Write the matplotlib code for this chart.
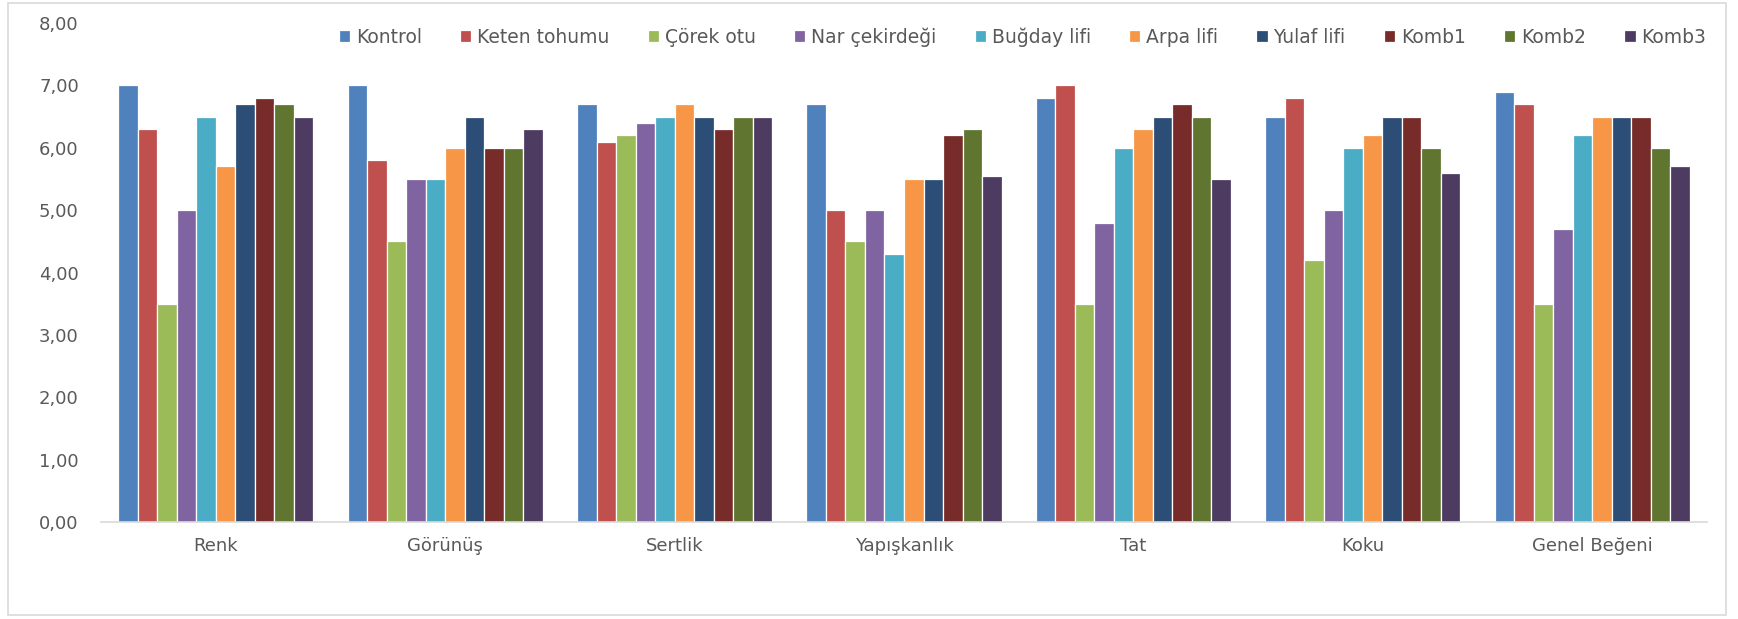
import matplotlib
matplotlib.use("Agg")
import matplotlib.pyplot as plt
import numpy as np
from matplotlib.patches import Rectangle
from matplotlib.ticker import FuncFormatter

categories = ["Renk", "Görünüş", "Sertlik", "Yapışkanlık", "Tat", "Koku", "Genel Beğeni"]
series_names = ["Kontrol", "Keten tohumu", "Çörek otu", "Nar çekirdeği", "Buğday lifi",
                "Arpa lifi", "Yulaf lifi", "Komb1", "Komb2", "Komb3"]

kontrol      = [7.0, 7.0, 6.7, 6.7, 6.8, 6.5, 6.9]
keten_tohumu = [6.3, 5.8, 6.1, 5.0, 7.0, 6.8, 6.7]
corek_otu    = [3.5, 4.5, 6.2, 4.5, 3.5, 4.2, 3.5]
nar_cekirdegi= [5.0, 5.5, 6.4, 5.0, 4.8, 5.0, 4.7]
bugday_lifi  = [6.5, 5.5, 6.5, 4.3, 6.0, 6.0, 6.2]
arpa_lifi    = [5.7, 6.0, 6.7, 5.5, 6.3, 6.2, 6.5]
yulaf_lifi   = [6.7, 6.5, 6.5, 5.5, 6.5, 6.5, 6.5]
komb1        = [6.8, 6.0, 6.3, 6.2, 6.7, 6.5, 6.5]
komb2        = [6.7, 6.0, 6.5, 6.3, 6.5, 6.0, 6.0]
komb3        = [6.5, 6.3, 6.5, 5.55, 5.5, 5.6, 5.7]

series = [kontrol, keten_tohumu, corek_otu, nar_cekirdegi, bugday_lifi,
          arpa_lifi, yulaf_lifi, komb1, komb2, komb3]
colors = ["#4F81BD", "#C0504D", "#9BBB59", "#8064A2", "#4BACC6",
          "#F79646", "#2C4D75", "#772C2A", "#5F7530", "#4D3B62"]

W, H = 1738, 619
fig = plt.figure(figsize=(W / 100, H / 100), dpi=100)
fig.patch.set_facecolor("white")
fig.add_artist(Rectangle((8 / W, 1 - 615 / H), (1726 - 8) / W, (615 - 3) / H,
                         transform=fig.transFigure, fill=False,
                         edgecolor="#D9D9D9", linewidth=1.2))

ax = fig.add_axes([101 / W, 1 - 522 / H, (1707 - 101) / W, (522 - 23) / H])

n = len(series)
x = np.arange(len(categories))
group_w = 0.85
bw = group_w / n
for i, (name, vals, c) in enumerate(zip(series_names, series, colors)):
    offs = -group_w / 2 + bw * (i + 0.5)
    ax.bar(x + offs, vals, width=bw, color=c, edgecolor="white",
           linewidth=0.9, label=name)

ax.set_xlim(-0.5, len(categories) - 0.5)
ax.set_ylim(0, 8)
ax.set_yticks(np.arange(0, 9, 1))
ax.yaxis.set_major_formatter(FuncFormatter(lambda v, p: f"{v:.2f}".replace(".", ",")))
ax.set_xticks(x)
ax.set_xticklabels(categories)
for s in ["top", "right", "left"]:
    ax.spines[s].set_visible(False)
ax.spines["bottom"].set_color("#D9D9D9")
ax.spines["bottom"].set_linewidth(1.2)
ax.tick_params(axis="y", length=0, pad=16, labelsize=13, labelcolor="#595959")
ax.tick_params(axis="x", length=0, pad=11, labelsize=13, labelcolor="#595959")

leg = ax.legend(loc="center right", bbox_to_anchor=(1706 / W, 1 - 37 / H),
                bbox_transform=fig.transFigure, ncol=10, frameon=False,
                fontsize=13.5, handlelength=0.6, handleheight=0.6,
                handletextpad=0.3, columnspacing=2.05, borderaxespad=0,
                borderpad=0)
for t in leg.get_texts():
    t.set_color("#595959")

fig.savefig("out.png", dpi=100, facecolor="white")
